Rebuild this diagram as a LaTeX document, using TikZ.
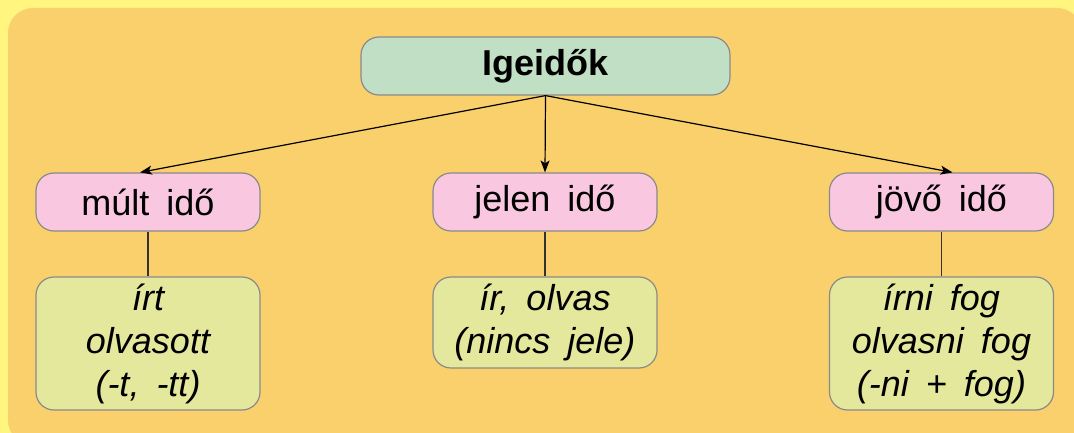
\documentclass[tikz,border=0pt]{standalone}
\usepackage{fontspec}
\setmainfont[WordSpace=1.7]{Liberation Sans}
\usetikzlibrary{arrows.meta,calc}
\definecolor{bgyellow}{HTML}{FFF57F}
\definecolor{panel}{HTML}{FAD06C}
\definecolor{titlefill}{HTML}{C1DFC4}
\definecolor{pinkfill}{HTML}{F9C8E0}
\definecolor{limefill}{HTML}{E4E89C}
\definecolor{edgegray}{HTML}{8A8A8A}
\begin{document}
\begin{tikzpicture}[x=1pt,y=-1pt,
  boxbase/.style={draw=edgegray, line width=1.2pt, rounded corners=18pt, inner sep=0pt, align=center,
    font=\fontsize{36}{43}\selectfont},
  titlebox/.style={boxbase, fill=titlefill, minimum width=369pt, minimum height=58pt, font=\fontsize{36}{43}\selectfont\bfseries},
  tensebox/.style={boxbase, fill=pinkfill, minimum width=224pt, minimum height=58pt},
  examplebox/.style={boxbase, fill=limefill, minimum width=224pt, font=\fontsize{36}{43}\selectfont\itshape},
  arrowline/.style={line width=1.2pt, -{Stealth[length=12pt,width=9pt,inset=3pt]}},
  plainline/.style={line width=1.2pt, draw=black!80}
]
\useasboundingbox (0,0) rectangle (1074,433);
\fill[bgyellow] (0,0) rectangle (1074,433);
\fill[panel, rounded corners=25pt] (8,8) rectangle (1082,445);

\node[titlebox] (top) at (545.5,66) {Igeidők};
\node[tensebox] (mult) at (148,202) {múlt idő};
\node[tensebox] (jelen) at (545,202) {jelen idő};
\node[tensebox] (jovo) at (941.5,202) {jövő idő};
\node[examplebox, minimum height=133pt] (multex) at (148,343.5) {írt\\olvasott\\(-t, -tt)};
\node[examplebox, minimum height=91pt] (jelenex) at (545,322.5) {ír, olvas\\(nincs jele)};
\node[examplebox, minimum height=133pt] (jovoex) at (941.5,343.5) {írni fog\\olvasni fog\\(-ni + fog)};

\coordinate (multin) at ($(mult.north)+(-8,0)$);
\coordinate (jovoin) at ($(jovo.north)+(11,0)$);
\draw[arrowline] (top.south) -- (multin);
\draw[arrowline] (top.south) -- (jelen.north);
\draw[arrowline] (top.south) -- (jovoin);
\draw[plainline] (mult.south) -- (multex.north);
\draw[plainline] (jelen.south) -- (jelenex.north);
\draw[plainline] (jovo.south) -- (jovoex.north);
\end{tikzpicture}
\end{document}
